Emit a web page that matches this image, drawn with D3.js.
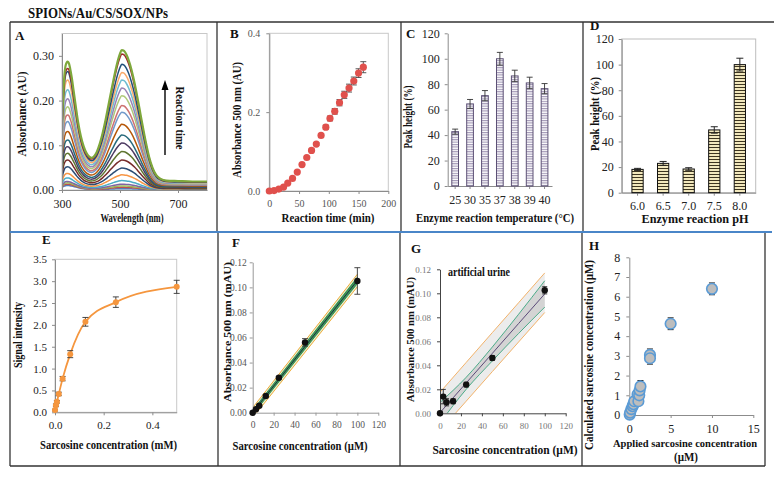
<!DOCTYPE html>
<html><head><meta charset="utf-8">
<script src="https://cdn.jsdelivr.net/npm/d3@7"></script>
<style>body{margin:0;background:#fff}svg{display:block}text{font-family:"Liberation Serif","Times New Roman",serif}</style>
</head><body><svg id="c" width="774" height="477"></svg>
<script>
// ---------- DATA ----------
// Panel A: spectra (wavelength grid + final spectrum, per-curve peak heights)
const aWavelength = [300,304,308,312,316,320,324,328,334,340,348,356,365,375,385,395,402,410,420,430,440,450,460,470,480,490,500,506,514,522,530,540,550,560,570,580,590,600,612,625,640,660,700,750,800];
const aFinalSpectrum = [0.15,0.21,0.255,0.277,0.285,0.287,0.283,0.272,0.25,0.222,0.185,0.15,0.12,0.097,0.082,0.074,0.072,0.075,0.085,0.103,0.127,0.156,0.189,0.222,0.254,0.283,0.305,0.313,0.311,0.303,0.29,0.268,0.24,0.207,0.172,0.137,0.104,0.075,0.05,0.033,0.025,0.021,0.02,0.019,0.019];
const aPeak500 = [0.003,0.006,0.009,0.013,0.021,0.034,0.049,0.067,0.086,0.105,0.123,0.147,0.174,0.189,0.211,0.228,0.246,0.263,0.281,0.304,0.313];
const aPeak320 = [0.010,0.013,0.016,0.019,0.027,0.037,0.052,0.067,0.082,0.097,0.112,0.131,0.153,0.168,0.186,0.204,0.224,0.246,0.265,0.272,0.287];
const aColors = ['#4F81BD','#C0504D','#9BBB59','#8064A2','#4BACC6','#F79646','#2C4D75','#772C2A','#5F7530','#4D3B62','#276A7C','#B65708','#729ACA','#CD7371','#AFC97A','#9983B5','#6FBDD1','#F9AB6B','#1F4E79','#A02B2B','#7EA83C'];
// Panel B
const bTime = [0,8,16,24,31,39,47,55,63,71,79,87,95,102,110,118,126,134,142,150,158];
const bAbs = [0.000,0.001,0.005,0.010,0.020,0.032,0.048,0.067,0.085,0.103,0.119,0.141,0.162,0.184,0.202,0.224,0.244,0.261,0.279,0.299,0.314];
const bErr = [0,0,0,0,0,0,0,0,0.002,0.003,0.003,0.004,0.005,0.006,0.007,0.008,0.009,0.010,0.010,0.011,0.014];
// Panel C
const cTemp = ['25','30','35','37','38','39','40'];
const cPeak = [42.7,64.5,71,100,86.5,81,76.5];
const cErr = [2,3.5,4,5,4.5,4.5,4];
// Panel D
const dPH = ['6.0','6.5','7.0','7.5','8.0'];
const dPeak = [18.2,22.9,18.5,49,100];
const dErr = [0.8,1.5,1,2.5,5];
// Panel E
const eConc = [0,0.0039,0.0078,0.0156,0.03125,0.0625,0.125,0.25,0.5];
const eSignal = [0.05,0.16,0.24,0.42,0.77,1.33,2.07,2.52,2.87];
const eErr = [0.02,0.03,0.03,0.04,0.05,0.08,0.1,0.12,0.15];
// Panel F
const fConc = [0,3.125,6.25,12.5,25,50,100];
const fAbs = [0.000,0.0027,0.0056,0.0133,0.0279,0.0561,0.1051];
const fErr = [0.0005,0.0005,0.0008,0.001,0.001,0.003,0.0106];
const fBandX = [0,100];
const fFit = [0.0002,0.1055];
const fPIlo = [-0.004,0.1005], fPIhi = [0.004,0.1105];
const fCIlo = [-0.0015,0.1030], fCIhi = [0.0019,0.1080];
// Panel G
const gConc = [0,3.125,6.25,12.5,25,50,100];
const gAbs = [0.000,0.0139,0.0092,0.0100,0.0239,0.0461,0.1025];
const gErr = [0.0008,0.006,0.003,0.002,0.002,0.002,0.003];
const gBandX = [0,25,50,75,100];
const gFit = [0.0005,0.0253,0.0500,0.0748,0.0995];
const gPIlo = [-0.0145,0.0101,0.0348,0.0594,0.0840], gPIhi = [0.0175,0.0424,0.0673,0.0921,0.1170];
const gCIlo = [-0.008,0.0200,0.0437,0.0665,0.0885], gCIhi = [0.009,0.0300,0.0553,0.0825,0.1105];
// Panel H
const hApplied = [0.05,0.1,0.25,0.4,0.5,0.6,1.0,1.1,1.2,1.25,1.35,2.5,2.5,5,10];
const hCalc = [0.02,0.12,0.3,0.45,0.55,0.7,1.05,0.7,1.0,1.25,1.45,3.05,2.88,4.63,6.4];
const hErr = [0.1,0.1,0.15,0.2,0.3,0.2,0.2,0.15,0.2,0.25,0.3,0.3,0.3,0.3,0.3];

// ---------- HELPERS ----------
const svg = d3.select('#c');
const defs = svg.append('defs');
function line(x1,y1,x2,y2,stroke,w){svg.append('line').attr('x1',x1).attr('y1',y1).attr('x2',x2).attr('y2',y2).attr('stroke',stroke).attr('stroke-width',w);}
function label(s,x,y,o={}){
  const t = svg.append('text').text(s).attr('font-size',o.size||12).attr('font-weight',o.weight||'bold')
    .attr('fill',o.fill||'#111').attr('text-anchor',o.anchor||'middle');
  if(o.rot){t.attr('transform',`translate(${x},${y}) rotate(${o.rot})`).attr('dominant-baseline','central');}
  else t.attr('x',x).attr('y',y);
  if(o.len){t.attr('textLength',o.len).attr('lengthAdjust','spacingAndGlyphs');}
  return t;
}
function styleAxis(g,size,color,stroke){
  g.selectAll('.domain').attr('stroke',stroke||'#8c8c8c');
  g.selectAll('.tick line').attr('stroke',stroke||'#8c8c8c');
  g.selectAll('.tick text').attr('font-size',size).attr('fill',color).attr('font-family','"Liberation Serif","Times New Roman",serif');
}
function axes(x,y,xTicks,yTicks,xFmt,yFmt,size,color,stroke,pad){
  const gy = svg.append('g').attr('transform',`translate(${x.range()[0]},0)`)
    .call(d3.axisLeft(y).tickValues(yTicks).tickFormat(yFmt).tickSize(3).tickSizeOuter(0).tickPadding(pad||4));
  styleAxis(gy,size,color,stroke);
  const gx = svg.append('g').attr('transform',`translate(0,${y.range()[0]})`)
    .call(d3.axisBottom(x).tickValues(xTicks).tickFormat(xFmt).tickSize(3).tickSizeOuter(0).tickPadding(6));
  styleAxis(gx,size,color,stroke);
  return [gx,gy];
}
function border(x,y,c){svg.append('rect').attr('x',x.range()[0]).attr('y',y.range()[1]).attr('width',x.range()[1]-x.range()[0]).attr('height',y.range()[0]-y.range()[1]).attr('fill','none').attr('stroke',c||'#bdbdbd');}
function errBars(xs,ys,es,x,y,cap,color,w){
  const g = svg.append('g').attr('stroke',color).attr('stroke-width',w||1).attr('fill','none');
  xs.forEach((v,i)=>{ if(!es[i]) return; const px = x(v), y1=y(ys[i]-es[i]), y2=y(ys[i]+es[i]);
    g.append('line').attr('x1',px).attr('x2',px).attr('y1',y1).attr('y2',y2);
    g.append('line').attr('x1',px-cap).attr('x2',px+cap).attr('y1',y1).attr('y2',y1);
    g.append('line').attr('x1',px-cap).attr('x2',px+cap).attr('y1',y2).attr('y2',y2);
  });
}
function clip(id,x,y){defs.append('clipPath').attr('id',id).append('rect').attr('x',x.range()[0]).attr('y',y.range()[1]).attr('width',x.range()[1]-x.range()[0]).attr('height',y.range()[0]-y.range()[1]);}

// patterns
const pc = defs.append('pattern').attr('id','hatchC').attr('patternUnits','userSpaceOnUse').attr('width',6).attr('height',2.4);
pc.append('rect').attr('width',6).attr('height',2.4).attr('fill','#fff');
pc.append('line').attr('x1',0).attr('x2',6).attr('y1',0.6).attr('y2',0.6).attr('stroke','#8a7da3').attr('stroke-width',0.9);
const pd = defs.append('pattern').attr('id','hatchD').attr('patternUnits','userSpaceOnUse').attr('width',6).attr('height',3);
pd.append('rect').attr('width',6).attr('height',3).attr('fill','#f2e8bd');
pd.append('line').attr('x1',0).attr('x2',6).attr('y1',0.5).attr('y2',0.5).attr('stroke','#3d3520').attr('stroke-width',1);

// ---------- FRAME ----------
line(10,22,774,22,'#333',1.3);
line(10,22,10,466,'#333',1.3);
line(10,466,765,466,'#333',1.3);
line(765,232,765,466,'#333',1.3);
[217,401,583].forEach(v=>line(v,22,v,232,'#333',1.3));
[218,400,582].forEach(v=>line(v,232,v,466,'#333',1.3));
line(10,232,772,232,'#4a86c8',2);
label('SPIONs/Au/CS/SOX/NPs',28,18,{size:14,anchor:'start',len:140});

// ---------- PANEL A ----------
{
  const x = d3.scaleLinear([300,800],[62,207]), y = d3.scaleLinear([0,0.35],[190,33.5]);
  clip('clipA',x,y);
  border(x,y,'#c8c8c8');
  const top500 = aPeak500[aPeak500.length-1], top320 = aPeak320[aPeak320.length-1];
  const ln = d3.line().x(d=>x(d[0])).y(d=>y(d[1])).curve(d3.curveMonotoneX);
  const g = svg.append('g').attr('clip-path','url(#clipA)');
  aPeak500.forEach((p,i)=>{
    const pts = aWavelength.map((w,j)=>{
      const wt = w<=360?1:(w>=440?0:(440-w)/80);
      const s = wt*aPeak320[i]/top320 + (1-wt)*p/top500;
      return [w,aFinalSpectrum[j]*s];
    });
    g.append('path').attr('d',ln(pts)).attr('fill','none').attr('stroke',aColors[i]).attr('stroke-width',i===aPeak500.length-1?2.2:1.5);
  });
  axes(x,y,[300,500,700],[0,0.1,0.2,0.3],d3.format('d'),d3.format('.2f'),12,'#222','#8c8c8c',5);
  label('A',15,40,{size:13,anchor:'start'});
  label('Absorbance (AU)',22,114,{rot:-90,len:85});
  label('Wavelength (nm)',132,222,{len:63});
  label('Reaction time',180,118,{rot:90,len:63});
  svg.append('line').attr('x1',165).attr('y1',155).attr('x2',165).attr('y2',88).attr('stroke','#000').attr('stroke-width',1.4);
  svg.append('path').attr('d','M161.5,90 L165,80 L168.5,90 Z').attr('fill','#000');
}

// ---------- PANEL B ----------
{
  const x = d3.scaleLinear([0,200],[269.3,388.3]), y = d3.scaleLinear([0,0.4],[191,33.3]);
  border(x,y,'#c8c8c8');
  axes(x,y,[0,50,100,150,200],[0,0.2,0.4],d3.format('d'),d3.format('.1f'),10,'#555','#8c8c8c',6);
  errBars(bTime,bAbs,bErr,x,y,3,'#444',0.9);
  svg.append('g').selectAll('circle').data(bTime).join('circle')
    .attr('cx',d=>x(d)).attr('cy',(d,i)=>y(bAbs[i])).attr('r',3.6).attr('fill','#e0504c');
  label('B',230,38,{size:13,anchor:'start'});
  label('Absorbance  500 nm (AU)',237,120,{rot:-90,len:116});
  label('Reaction time  (min)',328,222,{len:93});
}

// ---------- PANEL C ----------
{
  const x = d3.scaleBand(cTemp,[447.7,552]).paddingInner(0.55).paddingOuter(0.275);
  const y = d3.scaleLinear([0,120],[186,33.3]);
  axes(x,y,cTemp,d3.range(0,121,20),d=>d,d3.format('d'),12,'#222','#8c8c8c',5);
  svg.append('g').selectAll('rect').data(cTemp).join('rect')
    .attr('x',d=>x(d)).attr('width',x.bandwidth()).attr('y',(d,i)=>y(cPeak[i])).attr('height',(d,i)=>y(0)-y(cPeak[i]))
    .attr('fill','url(#hatchC)').attr('stroke','#5c5075').attr('stroke-width',1);
  errBars(cTemp.map(d=>d),cPeak,cErr,d=>x(d)+x.bandwidth()/2,y,3,'#333',0.9);
  label('C',406,38,{size:13,anchor:'start'});
  label('Peak height (%)',408,117,{rot:-90,len:63});
  label('Enzyme reaction temperature (°C)',495,222,{len:158});
}

// ---------- PANEL D ----------
{
  const x = d3.scaleBand(dPH,[621.7,755.7]).paddingInner(0.56).paddingOuter(0.4);
  const y = d3.scaleLinear([0,120],[192.7,39]);
  border(x,y,'#bdbdbd');
  axes(x,y,dPH,d3.range(0,121,20),d=>d,d3.format('d'),12,'#222','#8c8c8c',5);
  svg.append('g').selectAll('rect').data(dPH).join('rect')
    .attr('x',d=>x(d)).attr('width',x.bandwidth()).attr('y',(d,i)=>y(dPeak[i])).attr('height',(d,i)=>y(0)-y(dPeak[i]))
    .attr('fill','url(#hatchD)').attr('stroke','#111').attr('stroke-width',1);
  errBars(dPH,dPeak,dErr,d=>x(d)+x.bandwidth()/2,y,3.5,'#222',1);
  label('D',590,30,{size:13,anchor:'start'});
  label('Peak height (%)',595,114,{rot:-90,len:74});
  label('Enzyme reaction pH',695,223,{len:107});
}

// ---------- PANEL E ----------
{
  const x = d3.scaleLinear([0,0.5],[55,176.7]), y = d3.scaleLinear([0,3.5],[412.3,259.3]);
  border(x,y,'#c8c8c8');
  axes(x,y,[0,0.2,0.4],d3.range(0,3.51,0.5),d3.format('.1f'),d3.format('.1f'),11,'#222','#8c8c8c',5);
  const ln = d3.line().x(d=>x(d[0])).y(d=>y(d[1])).curve(d3.curveMonotoneX);
  svg.append('path').attr('d',ln(eConc.map((c,i)=>[c,eSignal[i]]))).attr('fill','none').attr('stroke','#f5963e').attr('stroke-width',1.8);
  errBars(eConc,eSignal,eErr,x,y,3,'#333',0.9);
  svg.append('g').selectAll('circle').data(eConc).join('circle')
    .attr('cx',d=>x(d)).attr('cy',(d,i)=>y(eSignal[i])).attr('r',3).attr('fill','#f5963e');
  label('E',42,244,{size:13,anchor:'start'});
  label('Signal intensity',18,335,{rot:-90,len:66});
  label('Sarcosine concentration (mM)',108.5,449,{len:137});
}

// ---------- PANEL F ----------
{
  const x = d3.scaleLinear([0,120],[252.7,378.3]), y = d3.scaleLinear([0,0.12],[412.7,262.3]);
  clip('clipF',x,y);
  const g = svg.append('g').attr('clip-path','url(#clipF)');
  const area = (lo,hi)=>d3.area().x((d,i)=>x(fBandX[i])).y0((d,i)=>y(lo[i])).y1((d,i)=>y(hi[i]))(fBandX);
  const ln = arr=>d3.line().x((d,i)=>x(fBandX[i])).y((d,i)=>y(arr[i]))(fBandX);
  g.append('path').attr('d',area(fPIlo,fPIhi)).attr('fill','#e3eed2');
  g.append('path').attr('d',area(fCIlo,fCIhi)).attr('fill','#3f9a57');
  [fPIlo,fPIhi].forEach(a=>g.append('path').attr('d',ln(a)).attr('fill','none').attr('stroke','#f0ac3a').attr('stroke-width',1));
  [fCIlo,fCIhi].forEach(a=>g.append('path').attr('d',ln(a)).attr('fill','none').attr('stroke','#2a7a3a').attr('stroke-width',0.8));
  g.append('path').attr('d',ln(fFit)).attr('fill','none').attr('stroke','#1b2b4a').attr('stroke-width',1);
  axes(x,y,d3.range(0,121,20),d3.range(0,0.121,0.02),d3.format('d'),d3.format('.2f'),9.5,'#555','#999',3);
  errBars(fConc,fAbs,fErr,x,y,3,'#333',0.9);
  svg.append('g').selectAll('circle').data(fConc).join('circle')
    .attr('cx',d=>x(d)).attr('cy',(d,i)=>y(fAbs[i])).attr('r',3.2).attr('fill','#111');
  label('F',232,247,{size:13,anchor:'start'});
  label('Absorbance  500 nm (mAU)',227,332,{rot:-90,len:140,size:11});
  label('Sarcosine concentration (µM)',300,450,{len:135});
}

// ---------- PANEL G ----------
{
  const x = d3.scaleLinear([0,120],[440,565.7]), y = d3.scaleLinear([0,0.12],[413.3,269.3]);
  clip('clipG',x,y);
  const g = svg.append('g').attr('clip-path','url(#clipG)');
  const area = (lo,hi)=>d3.area().x((d,i)=>x(gBandX[i])).y0((d,i)=>y(lo[i])).y1((d,i)=>y(hi[i])).curve(d3.curveMonotoneX)(gBandX);
  const ln = arr=>d3.line().x((d,i)=>x(gBandX[i])).y((d,i)=>y(arr[i])).curve(d3.curveMonotoneX)(gBandX);
  g.append('path').attr('d',area(gPIlo,gPIhi)).attr('fill','#ececec');
  g.append('path').attr('d',area(gCIlo,gCIhi)).attr('fill','#d4d4d4');
  [gPIlo,gPIhi].forEach(a=>g.append('path').attr('d',ln(a)).attr('fill','none').attr('stroke','#f2b26a').attr('stroke-width',1));
  [gCIlo,gCIhi].forEach(a=>g.append('path').attr('d',ln(a)).attr('fill','none').attr('stroke','#3aa57e').attr('stroke-width',0.9));
  g.append('path').attr('d',ln(gFit)).attr('fill','none').attr('stroke','#5b4a78').attr('stroke-width',1);
  axes(x,y,d3.range(0,121,20),d3.range(0,0.121,0.02),d3.format('d'),d3.format('.2f'),9,'#777','#444',6);
  errBars(gConc,gAbs,gErr,x,y,2.5,'#222',0.9);
  svg.append('g').selectAll('circle').data(gConc).join('circle')
    .attr('cx',d=>x(d)).attr('cy',(d,i)=>y(gAbs[i])).attr('r',3.2).attr('fill','#111');
  label('artificial urine',448,276,{size:12,anchor:'start',len:62});
  label('G',411,253,{size:13,anchor:'start'});
  label('Absorbance  500 nm (mAU)',410,339.5,{rot:-90,len:125,size:11});
  label('Sarcosine  concentration (µM)',505,454,{len:145});
}

// ---------- PANEL H ----------
{
  const x = d3.scaleLinear([0,15],[629.3,753.3]), y = d3.scaleLinear([0,8],[415,257.3]);
  axes(x,y,[0,5,10,15],d3.range(0,9,1),d3.format('d'),d3.format('d'),12,'#222','#8c8c8c',6);
  errBars(hApplied,hCalc,hErr,x,y,3,'#222',1);
  svg.append('g').selectAll('circle').data(hApplied).join('circle')
    .attr('cx',d=>x(d)).attr('cy',(d,i)=>y(hCalc[i])).attr('r',5.3).attr('fill','#bdbdbd').attr('stroke','#5b9bd5').attr('stroke-width',1.6);
  label('H',589,250,{size:13,anchor:'start'});
  label('Calculated sarcosine  concentration (µM)',589,355,{rot:-90,len:190});
  label('Applied sarcosine  concentration',685,447,{len:144,size:10.5});
  label('(µM)',686,461,{len:24});
}
</script></body></html>
